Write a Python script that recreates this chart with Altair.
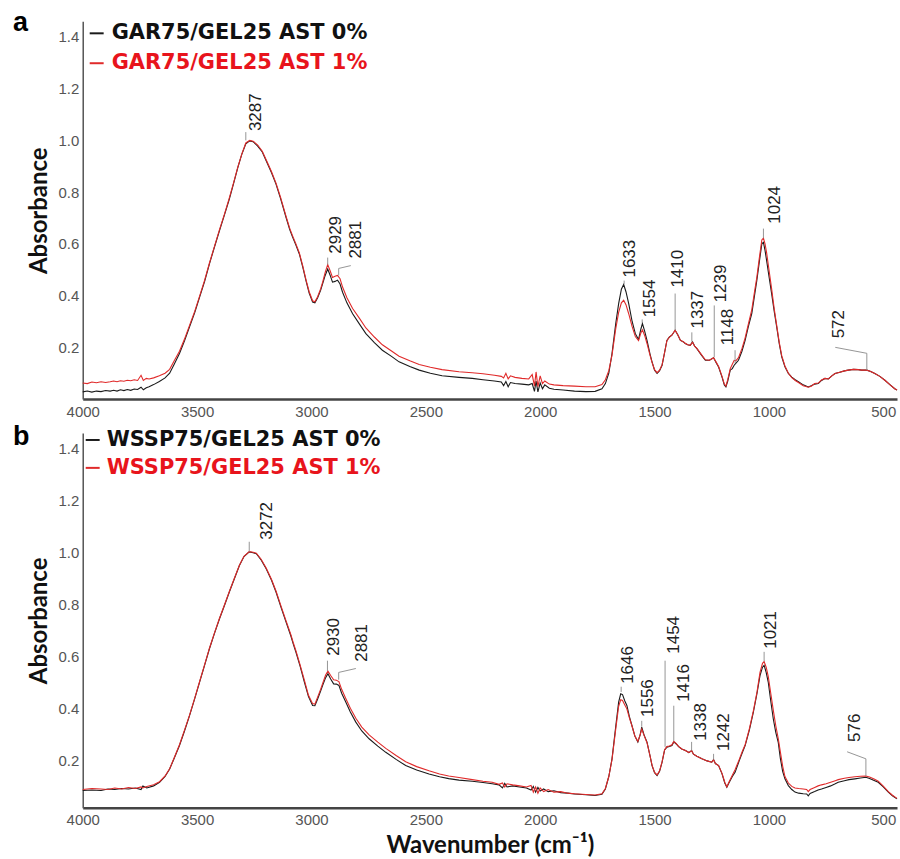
import altair as alt
import pandas as pd

# ---- series names, colours and axis ticks -------------------------------
SERIES_A = ["GAR75/GEL25 AST 0%", "GAR75/GEL25 AST 1%"]
SERIES_B = ["WSSP75/GEL25 AST 0%", "WSSP75/GEL25 AST 1%"]
LINE_COLORS = ["#1a1a1a", "#e02a2a"]
TEXT_COLORS = ["#111111", "#e8141c"]
X_TICKS = [4000, 3500, 3000, 2500, 2000, 1500, 1000, 500]
Y_TICKS = [0.2, 0.4, 0.6, 0.8, 1.0, 1.2, 1.4]

# ---- panel a: GAR75/GEL25 FTIR spectra -----------------------------------
WN_A = [4000, 3980, 3960, 3940, 3920, 3900, 3880, 3865, 3850, 3835,
        3820, 3805, 3790, 3775, 3760, 3745, 3735, 3722,
        3710, 3690, 3665, 3640, 3620, 3600, 3577, 3555, 3533, 3510,
        3489, 3467, 3446, 3424, 3402, 3380, 3359, 3340, 3322, 3305,
        3287, 3270, 3255, 3235, 3215, 3198, 3175, 3155, 3135, 3111,
        3095, 3082, 3068, 3053, 3038, 3024, 3010, 2995, 2985, 2973,
        2960, 2951, 2940, 2929, 2918, 2908, 2897, 2886, 2875, 2864,
        2845, 2820, 2790, 2762, 2725, 2690, 2650, 2617, 2570, 2529,
        2480, 2429, 2355, 2297, 2250, 2200, 2170, 2160, 2150, 2140,
        2130, 2110, 2080, 2050, 2035, 2025, 2018, 2010, 2000, 1990,
        1980, 1960, 1940, 1900, 1850, 1800, 1760, 1730, 1715, 1700,
        1686, 1670, 1657, 1645, 1635, 1625, 1613, 1598, 1584, 1570,
        1560, 1553, 1543, 1533, 1520, 1511, 1500, 1489, 1478, 1467,
        1455, 1446, 1435, 1424, 1410, 1398, 1387, 1375, 1366, 1355,
        1344, 1334, 1325, 1315, 1295, 1278, 1260, 1242, 1230, 1220,
        1205, 1195, 1188, 1180, 1169, 1160, 1152, 1145, 1133, 1118,
        1104, 1090, 1075, 1063, 1053, 1042, 1031, 1024, 1017, 1010,
        999, 988, 977, 966, 955, 944, 930, 915, 900, 885,
        871, 850, 828, 815, 800, 784, 770, 755, 740, 725,
        711, 690, 670, 653, 630, 610, 595, 572, 555, 537,
        515, 493, 470, 450, 440]

GAR_AST0 = [0.028, 0.031, 0.027, 0.031, 0.029, 0.033, 0.031, 0.034, 0.031, 0.036,
            0.033, 0.037, 0.034, 0.039, 0.037, 0.046, 0.036, 0.044,
            0.048, 0.056, 0.068, 0.082, 0.100, 0.135, 0.176, 0.225, 0.279, 0.335,
            0.394, 0.455, 0.523, 0.588, 0.651, 0.713, 0.773, 0.835, 0.895, 0.945,
            0.987, 0.998, 0.995, 0.978, 0.955, 0.921, 0.876, 0.831, 0.775, 0.702,
            0.655, 0.625, 0.595, 0.561, 0.510, 0.458, 0.410, 0.375, 0.372, 0.392,
            0.420, 0.446, 0.478, 0.503, 0.478, 0.452, 0.455, 0.460, 0.445, 0.413,
            0.372, 0.330, 0.290, 0.253, 0.218, 0.189, 0.165, 0.144, 0.126, 0.112,
            0.100, 0.090, 0.084, 0.080, 0.075, 0.070, 0.066, 0.052, 0.068, 0.048,
            0.064, 0.060, 0.058, 0.055, 0.060, 0.030, 0.070, 0.028, 0.062, 0.040,
            0.055, 0.042, 0.038, 0.035, 0.031, 0.029, 0.030, 0.040, 0.060, 0.100,
            0.176, 0.290, 0.369, 0.425, 0.443, 0.415, 0.369, 0.300, 0.253, 0.230,
            0.270, 0.292, 0.262, 0.227, 0.175, 0.144, 0.112, 0.099, 0.110, 0.131,
            0.185, 0.227, 0.240, 0.247, 0.266, 0.248, 0.227, 0.222, 0.215, 0.210,
            0.208, 0.221, 0.205, 0.195, 0.170, 0.150, 0.150, 0.160, 0.140, 0.124,
            0.085, 0.055, 0.047, 0.070, 0.112, 0.118, 0.131, 0.138, 0.150, 0.185,
            0.227, 0.280, 0.330, 0.400, 0.458, 0.530, 0.600, 0.606, 0.575, 0.535,
            0.470, 0.407, 0.340, 0.279, 0.215, 0.163, 0.125, 0.099, 0.085, 0.075,
            0.067, 0.055, 0.047, 0.052, 0.058, 0.060, 0.072, 0.080, 0.078, 0.090,
            0.099, 0.104, 0.109, 0.112, 0.115, 0.114, 0.112, 0.112, 0.107, 0.099,
            0.088, 0.073, 0.055, 0.040, 0.035]

GAR_AST1 = [0.062, 0.060, 0.066, 0.063, 0.067, 0.064, 0.067, 0.070, 0.067, 0.071,
            0.069, 0.073, 0.071, 0.075, 0.072, 0.092, 0.072, 0.080,
            0.078, 0.082, 0.090, 0.100, 0.115, 0.148, 0.185, 0.232, 0.285, 0.340,
            0.398, 0.460, 0.526, 0.590, 0.655, 0.716, 0.778, 0.838, 0.897, 0.946,
            0.990, 1.000, 0.997, 0.982, 0.958, 0.925, 0.880, 0.835, 0.780, 0.706,
            0.660, 0.630, 0.600, 0.565, 0.515, 0.462, 0.415, 0.380, 0.376, 0.396,
            0.426, 0.452, 0.490, 0.520, 0.495, 0.470, 0.475, 0.478, 0.465, 0.433,
            0.392, 0.350, 0.312, 0.275, 0.240, 0.210, 0.186, 0.166, 0.148, 0.134,
            0.123, 0.114, 0.106, 0.102, 0.098, 0.092, 0.088, 0.082, 0.100, 0.078,
            0.090, 0.084, 0.080, 0.078, 0.095, 0.050, 0.105, 0.048, 0.090, 0.060,
            0.070, 0.058, 0.055, 0.052, 0.050, 0.048, 0.048, 0.056, 0.075, 0.110,
            0.170, 0.270, 0.335, 0.372, 0.382, 0.365, 0.330, 0.280, 0.242, 0.226,
            0.255, 0.268, 0.245, 0.215, 0.170, 0.142, 0.114, 0.102, 0.112, 0.133,
            0.185, 0.226, 0.240, 0.248, 0.266, 0.248, 0.228, 0.222, 0.216, 0.210,
            0.208, 0.220, 0.205, 0.196, 0.172, 0.152, 0.150, 0.160, 0.142, 0.126,
            0.088, 0.058, 0.050, 0.075, 0.118, 0.135, 0.150, 0.148, 0.160, 0.195,
            0.237, 0.290, 0.345, 0.415, 0.470, 0.545, 0.615, 0.622, 0.600, 0.565,
            0.495, 0.425, 0.350, 0.285, 0.220, 0.168, 0.128, 0.100, 0.083, 0.072,
            0.064, 0.052, 0.046, 0.050, 0.060, 0.062, 0.074, 0.080, 0.078, 0.090,
            0.099, 0.104, 0.109, 0.112, 0.115, 0.114, 0.112, 0.112, 0.107, 0.099,
            0.088, 0.073, 0.055, 0.040, 0.035]

# peak labels for panel a: wavenumber, leader start/end, label anchor
PEAK_A = [3287, 2929, 2881, 1633, 1554, 1410, 1337, 1239, 1148, 1024, 572]
PEAK_A_BASE = [1.000, 0.520, 0.478, 0.445, 0.295, 0.266, 0.222, 0.162, 0.139, 0.622, 0.112]
PEAK_A_TOP = [1.032, 0.547, 0.505, 0.458, 0.308, 0.408, 0.258, 0.362, 0.189, 0.659, 0.177]
PEAK_A_LABEL_WN = [3242, 2893, 2806, 1609, 1522, 1399, 1312, 1211, 1181, 972, 693]
PEAK_A_LABEL_ABS = [1.036, 0.562, 0.543, 0.470, 0.316, 0.431, 0.273, 0.374, 0.208, 0.678, 0.235]
PEAK_A_BEND = {2881: (2828, 0.516), 572: (710, 0.200)}

# ---- panel b: WSSP75/GEL25 FTIR spectra ----------------------------------
WN_B = [4000, 3960, 3920, 3890, 3860, 3830, 3800, 3770, 3745, 3737,
        3720, 3690, 3664, 3640, 3620, 3600, 3577, 3555, 3533, 3510,
        3489, 3467, 3446, 3424, 3402, 3380, 3359, 3337, 3315, 3295,
        3272, 3255, 3241, 3220, 3198, 3175, 3155, 3133, 3111, 3090,
        3078, 3068, 3050, 3031, 3013, 2995, 2985, 2973, 2960, 2951,
        2938, 2928, 2916, 2903, 2891, 2880, 2868, 2850, 2830, 2806,
        2780, 2748, 2710, 2675, 2630, 2588, 2540, 2486, 2440, 2400,
        2355, 2297, 2250, 2210, 2180, 2165, 2155, 2145, 2120, 2090,
        2060, 2040, 2030, 2020, 2010, 2000, 1985, 1965, 1940, 1910,
        1880, 1850, 1800, 1760, 1730, 1715, 1700, 1686, 1670, 1657,
        1648, 1640, 1630, 1621, 1610, 1599, 1586, 1573, 1563, 1556,
        1546, 1533, 1520, 1511, 1500, 1489, 1478, 1467, 1456, 1446,
        1435, 1424, 1416, 1405, 1395, 1381, 1365, 1350, 1338, 1330,
        1315, 1293, 1270, 1250, 1242, 1234, 1220, 1205, 1193, 1184,
        1175, 1160, 1148, 1130, 1117, 1104, 1085, 1068, 1052, 1039,
        1028, 1021, 1012, 1003, 992, 981, 970, 959, 950, 940,
        930, 915, 900, 886, 870, 850, 835, 828, 820, 800,
        785, 770, 750, 730, 710, 697, 670, 650, 624, 600,
        576, 560, 540, 522, 500, 478, 460, 440]

WSSP_AST0 = [0.086, 0.088, 0.086, 0.092, 0.090, 0.094, 0.092, 0.096, 0.090, 0.104,
             0.096, 0.104, 0.118, 0.140, 0.169, 0.210, 0.259, 0.315, 0.374, 0.440,
             0.503, 0.568, 0.631, 0.690, 0.746, 0.798, 0.849, 0.900, 0.951, 0.985,
             1.003, 1.000, 0.996, 0.972, 0.938, 0.895, 0.849, 0.790, 0.733, 0.680,
             0.645, 0.618, 0.565, 0.503, 0.447, 0.413, 0.412, 0.438, 0.468, 0.490,
             0.520, 0.535, 0.515, 0.496, 0.495, 0.490, 0.460, 0.426, 0.388, 0.349,
             0.315, 0.285, 0.257, 0.233, 0.206, 0.182, 0.165, 0.150, 0.139, 0.132,
             0.126, 0.122, 0.117, 0.112, 0.108, 0.096, 0.114, 0.100, 0.104, 0.100,
             0.096, 0.088, 0.102, 0.080, 0.098, 0.084, 0.092, 0.082, 0.085, 0.078,
             0.076, 0.073, 0.070, 0.067, 0.072, 0.092, 0.140, 0.208, 0.330, 0.426,
             0.458, 0.455, 0.430, 0.413, 0.370, 0.336, 0.295, 0.272, 0.300, 0.330,
             0.300, 0.272, 0.220, 0.182, 0.155, 0.144, 0.160, 0.195, 0.242, 0.253,
             0.255, 0.259, 0.273, 0.265, 0.255, 0.246, 0.240, 0.232, 0.240, 0.226,
             0.218, 0.208, 0.200, 0.195, 0.205, 0.190, 0.182, 0.150, 0.115, 0.099,
             0.115, 0.140, 0.156, 0.200, 0.230, 0.259, 0.320, 0.387, 0.460, 0.528,
             0.560, 0.567, 0.540, 0.503, 0.430, 0.362, 0.310, 0.270, 0.210, 0.160,
             0.131, 0.105, 0.090, 0.080, 0.076, 0.074, 0.073, 0.066, 0.075, 0.082,
             0.088, 0.092, 0.098, 0.104, 0.112, 0.118, 0.124, 0.128, 0.131, 0.134,
             0.137, 0.132, 0.125, 0.118, 0.100, 0.080, 0.066, 0.054]

WSSP_AST1 = [0.090, 0.094, 0.092, 0.090, 0.096, 0.092, 0.098, 0.094, 0.100, 0.096,
             0.102, 0.108, 0.120, 0.142, 0.170, 0.212, 0.262, 0.318, 0.376, 0.442,
             0.505, 0.570, 0.633, 0.692, 0.748, 0.800, 0.851, 0.902, 0.952, 0.986,
             1.004, 1.002, 0.998, 0.975, 0.941, 0.898, 0.853, 0.795, 0.738, 0.685,
             0.650, 0.624, 0.570, 0.510, 0.452, 0.420, 0.418, 0.445, 0.475, 0.498,
             0.530, 0.545, 0.528, 0.512, 0.510, 0.505, 0.475, 0.440, 0.402, 0.364,
             0.330, 0.300, 0.272, 0.248, 0.221, 0.197, 0.178, 0.162, 0.150, 0.142,
             0.136, 0.128, 0.122, 0.118, 0.110, 0.115, 0.100, 0.112, 0.108, 0.104,
             0.100, 0.106, 0.080, 0.100, 0.076, 0.096, 0.082, 0.090, 0.080, 0.082,
             0.076, 0.074, 0.071, 0.069, 0.074, 0.094, 0.140, 0.205, 0.320, 0.410,
             0.435, 0.432, 0.415, 0.400, 0.365, 0.335, 0.296, 0.275, 0.300, 0.322,
             0.298, 0.270, 0.220, 0.184, 0.156, 0.146, 0.162, 0.197, 0.243, 0.255,
             0.257, 0.262, 0.275, 0.266, 0.256, 0.246, 0.240, 0.232, 0.240, 0.226,
             0.218, 0.208, 0.200, 0.195, 0.204, 0.190, 0.182, 0.152, 0.118, 0.100,
             0.118, 0.145, 0.166, 0.205, 0.235, 0.262, 0.325, 0.392, 0.465, 0.540,
             0.575, 0.582, 0.560, 0.525, 0.460, 0.395, 0.335, 0.285, 0.235, 0.180,
             0.140, 0.115, 0.102, 0.096, 0.094, 0.092, 0.090, 0.082, 0.090, 0.098,
             0.104, 0.108, 0.112, 0.118, 0.124, 0.128, 0.133, 0.136, 0.139, 0.141,
             0.142, 0.138, 0.130, 0.122, 0.103, 0.082, 0.068, 0.056]

PEAK_B = [3272, 2930, 2881, 1646, 1556, 1454, 1416, 1338, 1242, 1021, 576]
PEAK_B_BASE = [1.004, 0.545, 0.512, 0.465, 0.331, 0.254, 0.275, 0.240, 0.205, 0.582, 0.142]
PEAK_B_TOP = [1.042, 0.585, 0.540, 0.485, 0.354, 0.585, 0.412, 0.273, 0.227, 0.619, 0.208]
PEAK_B_LABEL_WN = [3194, 2902, 2780, 1617, 1529, 1413, 1370, 1298, 1195, 993, 623]
PEAK_B_LABEL_ABS = [1.050, 0.604, 0.581, 0.496, 0.369, 0.612, 0.427, 0.277, 0.238, 0.631, 0.273]
PEAK_B_BEND = {2881: (2806, 0.555), 576: (658, 0.235)}

X_DOMAIN = [4000, 440]
PLOT_W = 817


def one_row(value):
    return pd.DataFrame({"t": [value]})


def panel(letter, names, wn, s0, s1, peaks, base, top, lab_wn, lab_abs, bends,
          y_domain, height, x_title, legend_x, legend_y, letter_y):
    assert len(wn) == len(s0) == len(s1)
    x_axis = alt.Axis(values=X_TICKS, format="d", grid=False, ticks=False, tickSize=0,
                      domainColor="#444444", domainWidth=2.5,
                      labelFont="Liberation Sans", labelFontSize=15, labelColor="#555555",
                      labelPadding=5, labelOverlap=False, labelFlush=False,
                      title=x_title, titleFont="Lato", titleFontSize=24,
                      titleFontWeight="bold", titleColor="#111111", titlePadding=6)
    y_axis = alt.Axis(values=Y_TICKS, format=".1f", grid=False, ticks=False, tickSize=0,
                      domainColor="#555555", domainWidth=1.5,
                      labelFont="Liberation Sans", labelFontSize=15, labelColor="#555555",
                      labelPadding=4, title="Absorbance", titleFont="Lato", titleFontSize=24,
                      titleFontWeight="bold", titleColor="#111111", titlePadding=6)
    x = alt.X("wn:Q", scale=alt.Scale(domain=X_DOMAIN, nice=False, zero=False), axis=x_axis)
    y = alt.Y("A:Q", scale=alt.Scale(domain=y_domain, nice=False, zero=False), axis=y_axis)

    layers = []
    for vals, col in zip([s0, s1], LINE_COLORS):
        df = pd.DataFrame({"wn": wn, "A": vals})
        layers.append(alt.Chart(df).mark_line(color=col, strokeWidth=1.1).encode(x=x, y=y))

    # leader lines from each peak to its label
    rows = []
    for i, p in enumerate(peaks):
        rows.append({"label": str(p), "k": 0, "wn": p, "A": base[i]})
        rows.append({"label": str(p), "k": 1, "wn": p, "A": top[i]})
        if p in bends:
            rows.append({"label": str(p), "k": 2, "wn": bends[p][0], "A": bends[p][1]})
    leaders = alt.Chart(pd.DataFrame(rows)).mark_line(color="#8a8a8a", strokeWidth=0.9).encode(
        x=x, y=y, detail="label:N", order="k:Q")
    layers.append(leaders)

    lab_df = pd.DataFrame({"wn": lab_wn, "A": lab_abs, "label": [str(p) for p in peaks]})
    labels = alt.Chart(lab_df).mark_text(angle=270, align="left", baseline="middle",
                                         font="Liberation Sans", fontSize=17,
                                         color="#222222").encode(x=x, y=y, text="label:N")
    layers.append(labels)

    # legend: short dash plus bold series name
    for i, name in enumerate(names):
        yy = legend_y[i]
        layers.append(alt.Chart(one_row(name)).mark_rule(color=LINE_COLORS[i], strokeWidth=2).encode(
            x=alt.value(legend_x[0]), x2=alt.value(legend_x[0] + 14), y=alt.value(yy)))
        layers.append(alt.Chart(one_row(name)).mark_text(
            align="left", baseline="middle", font="DejaVu Sans", fontWeight="bold",
            fontSize=21, color=TEXT_COLORS[i]).encode(
            x=alt.value(legend_x[1]), y=alt.value(yy), text="t:N"))

    # panel letter
    layers.append(alt.Chart(one_row(letter)).mark_text(
        align="left", baseline="alphabetic", font="Liberation Sans", fontWeight="bold",
        fontSize=27, color="#000000").encode(x=alt.value(-70), y=alt.value(letter_y), text="t:N"))

    return alt.layer(*layers).properties(width=PLOT_W, height=height)


panel_a = panel("a", SERIES_A, WN_A, GAR_AST0, GAR_AST1, PEAK_A, PEAK_A_BASE, PEAK_A_TOP,
                PEAK_A_LABEL_WN, PEAK_A_LABEL_ABS, PEAK_A_BEND, [0.0, 1.46], 379, None,
                (7, 29), (12, 42), 10)
panel_b = panel("b", SERIES_B, WN_B, WSSP_AST0, WSSP_AST1, PEAK_B, PEAK_B_BASE, PEAK_B_TOP,
                PEAK_B_LABEL_WN, PEAK_B_LABEL_ABS, PEAK_B_BEND, [0.02, 1.46], 376,
                "Wavenumber (cm⁻¹)", (3, 24), (7, 35), 12)

chart = alt.vconcat(panel_a, panel_b, spacing=4).properties(
    padding={"left": 13, "top": 8, "right": 0, "bottom": 2},
    background="white",
).configure_view(stroke=None)

chart.save("out.html", embed_options={"renderer": "svg", "actions": False})
